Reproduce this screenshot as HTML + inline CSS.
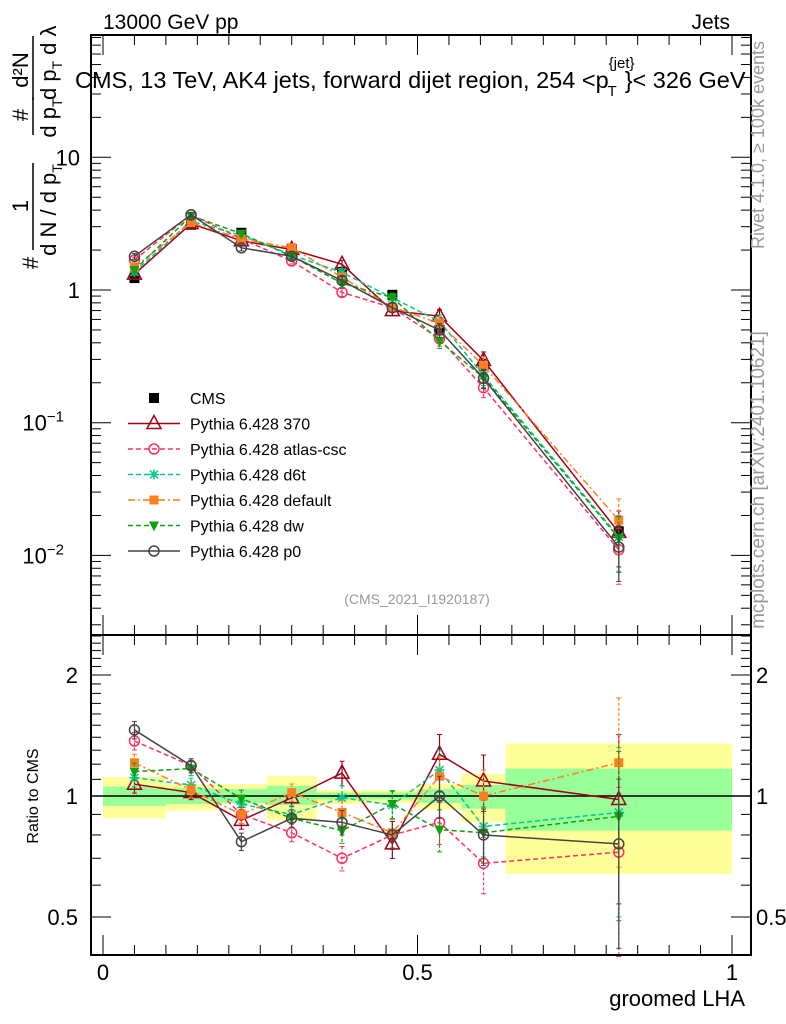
<!DOCTYPE html>
<html><head><meta charset="utf-8"><style>
html,body{margin:0;padding:0;background:#fff;}
svg{display:block;font-family:"Liberation Sans",sans-serif;}
</style></head><body>
<svg id="c" width="786" height="1024" viewBox="0 0 786 1024"></svg>
<script>
const xEdges=[0,0.1,0.18,0.26,0.34,0.42,0.5,0.57,0.64,1.0];
const xMids=[0.05,0.14,0.22,0.3,0.38,0.46,0.535,0.605,0.82];
const cmsVals=[1.23,3.1,2.7,2.04,1.37,0.92,0.5,0.27,0.0152];
const cmsErr=[0.05,0.08,0.07,0.06,0.06,0.05,0.04,0.03,0.002];
const bandYellowUp=[1.115,1.07,1.07,1.12,1.035,1.035,1.07,1.135,1.35];
const bandYellowDn=[0.88,0.92,0.955,0.87,0.955,0.96,0.925,0.86,0.64];
const bandGreenUp=[1.055,1.045,1.04,1.06,1.02,1.02,1.04,1.065,1.17];
const bandGreenDn=[0.945,0.955,0.96,0.95,0.98,0.98,0.96,0.93,0.82];
const relErr=[0.05,0.04,0.05,0.05,0.07,0.08,0.12,0.16,0.45];
const r370=[1.07,1.02,0.87,0.99,1.14,0.76,1.27,1.09,0.98];
const rAtlas=[1.37,1.19,0.9,0.81,0.7,0.8,0.86,0.68,0.725];
const rD6t=[1.11,1.065,0.955,0.9,0.99,0.95,1.16,0.84,0.91];
const rDefault=[1.21,1.035,0.9,1.02,0.91,0.81,1.12,1.0,1.21];
const rDw=[1.15,1.17,0.985,0.88,0.82,0.955,0.825,0.81,0.89];
const rP0=[1.46,1.19,0.77,0.88,0.86,0.8,1.0,0.8,0.76];
const series=[
 {name:"Pythia 6.428 370",r:r370,color:"#a00018",dash:"",marker:"tri"},
 {name:"Pythia 6.428 atlas-csc",r:rAtlas,color:"#ff3060",dash:"5,3",marker:"circ"},
 {name:"Pythia 6.428 d6t",r:rD6t,color:"#00c890",dash:"5,3",marker:"star"},
 {name:"Pythia 6.428 default",r:rDefault,color:"#ff7f20",dash:"7,3,2,3",marker:"sq"},
 {name:"Pythia 6.428 dw",r:rDw,color:"#10a010",dash:"5,3",marker:"dtri"},
 {name:"Pythia 6.428 p0",r:rP0,color:"#444444",dash:"",marker:"circ"}
];
const svg=document.getElementById('c');
const NS="http://www.w3.org/2000/svg";
function el(t,a,p){const e=document.createElementNS(NS,t);for(const k in a)e.setAttribute(k,a[k]);(p||svg).appendChild(e);return e;}
const L=91,R=751,T=35,MB=635,B=955;
const X=v=>103+629*v;
const Y=v=>290-132.7*Math.log10(v);
const YR=r=>796-402*Math.log10(r);
const gb=el('g',{});
for(let i=0;i<9;i++){
 const x0=X(xEdges[i]),x1=X(xEdges[i+1]);
 const ry=el('rect',{x:x0,y:YR(bandYellowUp[i]),width:x1-x0,height:YR(bandYellowDn[i])-YR(bandYellowUp[i]),fill:'#ffff99'},gb);
 
 const rg=el('rect',{x:x0,y:YR(bandGreenUp[i]),width:x1-x0,height:YR(bandGreenDn[i])-YR(bandGreenUp[i]),fill:'#99ff99'},gb);
 
}
el('line',{x1:L,x2:R,y1:YR(1),y2:YR(1),stroke:'#000','stroke-width':1.5});
function marker(g,type,x,y,c){
 let m;
 if(type==='tri')m=el('polygon',{points:`${x},${y-8} ${x-7},${y+5} ${x+7},${y+5}`,fill:'none',stroke:c,'stroke-width':1.5},g);
 else if(type==='dtri')m=el('polygon',{points:`${x},${y+6} ${x-5},${y-4} ${x+5},${y-4}`,fill:c},g);
 else if(type==='circ')m=el('circle',{cx:x,cy:y,r:5,fill:'none',stroke:c,'stroke-width':1.5},g);
 else if(type==='sq')m=el('rect',{x:x-4.5,y:y-4.5,width:9,height:9,fill:c},g);
 else if(type==='bsq')m=el('rect',{x:x-5,y:y-5,width:10,height:10,fill:c},g);
 else {m=el('path',{d:`M${x-5},${y}H${x+5}M${x},${y-5}V${y+5}M${x-4},${y-4}L${x+4},${y+4}M${x-4},${y+4}L${x+4},${y-4}`,stroke:c,'stroke-width':1.5},g);}
 
}
function ebar(g,x,y1,y2,c,d){
 el('line',{x1:x,x2:x,y1:y1,y2:y2,stroke:c,'stroke-width':1.2,'stroke-dasharray':d||''},g);
 el('line',{x1:x-2.5,x2:x+2.5,y1:y1,y2:y1,stroke:c},g);
 el('line',{x1:x-2.5,x2:x+2.5,y1:y2,y2:y2,stroke:c},g);
}
const gc=el('g',{});
for(let i=0;i<9;i++){ebar(gc,X(xMids[i]),Y(cmsVals[i]+cmsErr[i]),Y(cmsVals[i]-cmsErr[i]),'#000');marker(gc,'bsq',X(xMids[i]),Y(cmsVals[i]),'#000');}
series.forEach(s=>{
 const g=el('g',{});
 const mv=s.r.map((r,i)=>r*cmsVals[i]);
 el('polyline',{points:mv.map((v,i)=>X(xMids[i])+','+Y(v)).join(' '),fill:'none',stroke:s.color,'stroke-width':1.5,'stroke-dasharray':s.dash},g);
 el('polyline',{points:s.r.map((v,i)=>X(xMids[i])+','+YR(v)).join(' '),fill:'none',stroke:s.color,'stroke-width':1.5,'stroke-dasharray':s.dash},g);
 for(let i=0;i<9;i++){
  const e=relErr[i];
  ebar(g,X(xMids[i]),Y(mv[i]*(1+e)),Y(mv[i]*Math.max(0.2,1-e)),s.color,s.dash?'3,2':'');
  ebar(g,X(xMids[i]),YR(s.r[i]*(1+e)),YR(s.r[i]*Math.max(0.2,1-e)),s.color,s.dash?'3,2':'');
  marker(g,s.marker,X(xMids[i]),Y(mv[i]),s.color);
  marker(g,s.marker,X(xMids[i]),YR(s.r[i]),s.color);
 }
});
el('rect',{x:L,y:T,width:R-L,height:MB-T,fill:'none',stroke:'#000','stroke-width':2});
el('rect',{x:L,y:MB,width:R-L,height:B-MB,fill:'none',stroke:'#000','stroke-width':2});
for(let d=-3;d<=1;d++)for(let k=1;k<10;k++){
 const v=k*Math.pow(10,d),y=Y(v);if(y<T||y>MB)continue;const len=k===1?20:10;
 el('line',{x1:L,x2:L+len,y1:y,y2:y,stroke:'#000'});el('line',{x1:R-len,x2:R,y1:y,y2:y,stroke:'#000'});
}
for(let k=3;k<=25;k++){const v=k/10;const y=YR(v);if(y<MB||y>B)continue;const len=(v===0.5||v===1||v===2)?20:10;
 el('line',{x1:L,x2:L+len,y1:y,y2:y,stroke:'#000'});el('line',{x1:R-len,x2:R,y1:y,y2:y,stroke:'#000'});}
for(let k=0;k<=20;k++){const x=X(k/20);const len=k%10===0?20:10;
 [T,MB].forEach(y0=>el('line',{x1:x,x2:x,y1:y0,y2:y0+len,stroke:'#000'}));
 [MB,B].forEach(y0=>el('line',{x1:x,x2:x,y1:y0-len,y2:y0,stroke:'#000'}));}
function txt(s,a,name,inter){const t=el('text',a);t.textContent=s;return t;}
[[10,"10"],[1,"1"]].forEach(([v,s])=>txt(s,{x:80,y:Y(v)+8,'font-size':22,'text-anchor':'end'},'y-tick-label'));
[[0.1,"−1"],[0.01,"−2"]].forEach(([v,s])=>{const t=txt('10',{x:64,y:Y(v)+8,'font-size':22,'text-anchor':'end'},'y-tick-label');const u=el('tspan',{dy:-9,'font-size':15});u.textContent=s;t.appendChild(u);});
[[2,"2"],[1,"1"],[0.5,"0.5"]].forEach(([v,s])=>{txt(s,{x:78,y:YR(v)+8,'font-size':22,'text-anchor':'end'},'ratio-tick-label');txt(s,{x:756,y:YR(v)+8,'font-size':22},'ratio-tick-label-right');});
[[0,"0"],[0.5,"0.5"],[1,"1"]].forEach(([v,s])=>txt(s,{x:X(v),y:980,'font-size':22,'text-anchor':'middle'},'x-tick-label'));
txt('groomed LHA',{x:745,y:1006,'font-size':22,'text-anchor':'end'},'x-axis-title');
txt('13000 GeV pp',{x:103,y:29,'font-size':21},'beam-label');
txt('Jets',{x:730,y:29,'font-size':21,'text-anchor':'end'},'process-label');
const tt=txt('CMS, 13 TeV, AK4 jets, forward dijet region, 254 <p',{x:75,y:88,'font-size':23.5},'plot-title');
const ts1=el('tspan',{dy:-20,'font-size':15},tt);ts1.textContent='{jet}';
const ts2=el('tspan',{dx:-27,dy:28,'font-size':15},tt);ts2.textContent='T';
const ts3=el('tspan',{dx:8,dy:-8,'font-size':23.5},tt);ts3.textContent='}< 326 GeV';
txt('(CMS_2021_I1920187)',{x:417,y:604,'font-size':14,fill:'#999','text-anchor':'middle'},'analysis-id');
txt('Ratio to CMS',{x:38,y:796,'font-size':16,'text-anchor':'middle',transform:'rotate(-90 38 796)'},'ratio-axis-title');
txt('Rivet 4.1.0, ≥ 100k events',{x:764,y:145,'font-size':18,fill:'#999','text-anchor':'middle',transform:'rotate(-90 764 145)'},'rivet-label');
txt('mcplots.cern.ch [arXiv:2401.10621]',{x:764,y:480,'font-size':19,fill:'#999','text-anchor':'middle',transform:'rotate(-90 764 480)'},'mcplots-label');
// y axis title (rotated): screen (sx,sy) -> rotated coords (x'=-sy, y'=sx)
const ya=el('g',{transform:'rotate(-90)'});
function yt(s,sy,sx,sub){const t=el('text',{x:-sy,y:sx,'font-size':22,'text-anchor':'middle'},ya);t.textContent=s;return t;}
yt('#',263,38);
yt('1',206,28);
el('line',{x1:-250,x2:-163,y1:33,y2:33,stroke:'#000','stroke-width':1.5},ya);
const d1=yt('d N / d p',210,56);const d1s=el('tspan',{dy:6,'font-size':14},d1);d1s.textContent='T';
yt('#',115,28);
el('line',{x1:-135,x2:-97,y1:33,y2:33,stroke:'#000','stroke-width':1.5},ya);
const d2=yt('d p',118,56);const d2s=el('tspan',{dy:6,'font-size':14},d2);d2s.textContent='T';
yt('d²N',70,28);
el('line',{x1:-100,x2:-36,y1:33,y2:33,stroke:'#000','stroke-width':1.5},ya);
const d3=el('text',{x:-100,y:56,'font-size':22},ya);d3.textContent='d p';
const d3s=el('tspan',{dy:6,'font-size':14},d3);d3s.textContent='T';
const d3b=el('tspan',{dy:-6,dx:6,'font-size':22},d3);d3b.textContent='d λ';
// legend
const lg=el('g',{});
const ly0=398,lstep=25.5;
marker(lg,'bsq',154,ly0,'#000');txt('CMS',{x:190,y:ly0+6,'font-size':16},'legend-entry');
series.forEach((s,i)=>{const y=ly0+lstep*(i+1);
 el('line',{x1:128,x2:180,y1:y,y2:y,stroke:s.color,'stroke-width':1.5,'stroke-dasharray':s.dash},lg);
 marker(lg,s.marker,154,y,s.color);
 txt(s.name,{x:190,y:y+6,'font-size':16},'legend-entry');});
</script>
</body></html>
